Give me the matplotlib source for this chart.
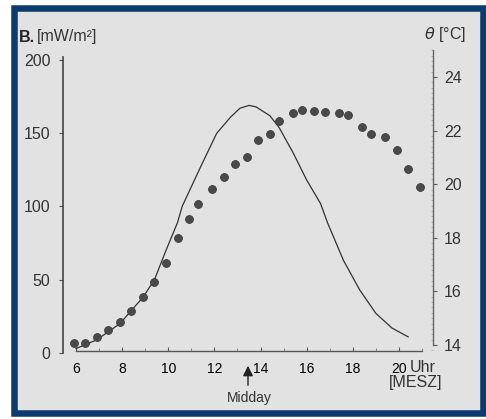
import numpy as np
import matplotlib
matplotlib.use("Agg")
import matplotlib.pyplot as plt
from matplotlib.patches import Rectangle
from matplotlib.ticker import MultipleLocator

plt.rcParams['font.family'] = ['Liberation Sans Narrow', 'Liberation Sans', 'DejaVu Sans']

# Globalstrahlung (Linie, linke Achse)
rad_hour = [6.0, 6.9, 7.9, 8.9, 9.4, 9.9, 10.4, 10.6, 11.4, 12.1, 12.7, 13.1, 13.5,
            13.8, 14.4, 14.8, 15.4, 16.0, 16.6, 16.9, 17.6, 18.3, 19.0, 19.7, 20.4]
rad_value = [3, 9, 20, 38, 50, 70, 89, 100, 127, 150, 161, 167, 169,
             168, 162, 154, 137, 118, 102, 89, 63, 43, 27, 17, 11]

# Lufttemperatur (Punkte, rechte Achse)
temp_hour = [5.9, 6.4, 6.9, 7.4, 7.9, 8.4, 8.9, 9.4, 9.9, 10.4, 10.9, 11.3, 11.9,
             12.4, 12.9, 13.4, 13.9, 14.4, 14.8, 15.4, 15.8, 16.3, 16.8, 17.4,
             17.8, 18.4, 18.8, 19.4, 19.9, 20.4, 20.9]
temp_value = [14.07, 14.07, 14.30, 14.56, 14.86, 15.27, 15.79, 16.35, 17.06, 17.99,
              18.70, 19.26, 19.82, 20.27, 20.75, 21.01, 21.65, 21.87, 22.36, 22.66,
              22.77, 22.73, 22.69, 22.66, 22.58, 22.13, 21.87, 21.76, 21.28, 20.57, 19.90]

x_ticks = [6, 8, 10, 12, 14, 16, 18, 20]
left_ticks = [0, 50, 100, 150, 200]
right_ticks = [14, 16, 18, 20, 22, 24]

W, H = 486, 419
fig = plt.figure(figsize=(W / 100, H / 100), dpi=100)
fig.patch.set_facecolor('white')

# Rahmen
frame = Rectangle((14 / W, 1 - 412.5 / H), 468.5 / W, 404 / H,
                  transform=fig.transFigure, facecolor='#e2e2e2',
                  edgecolor='#0b3b6e', linewidth=4.7, zorder=0)
fig.add_artist(frame)

ax = fig.add_axes([63 / W, 1 - 353 / H, 370 / W, 303 / H])
ax.set_facecolor('none')
ax2 = ax.twinx()
ax2.set_facecolor('none')

txt = '#333333'

# linke Achse: Strahlung
ax.plot(rad_hour, rad_value, color='#333333', lw=0.9, zorder=3)
ax.set_xlim(5.436, 21.475)
ax.set_ylim(0, 206.8)
ax.set_yticks(left_ticks)
ax.set_yticklabels([str(v) for v in left_ticks], fontsize=11.5, color=txt)
ax.set_xticks(x_ticks)
ax.set_xticklabels([str(v) for v in x_ticks], fontsize=11.5, color=txt)
ax.xaxis.set_minor_locator(MultipleLocator(1))
ax.tick_params(axis='x', which='major', direction='in', length=3, width=0.8,
               color='#555555', pad=8)
ax.tick_params(axis='x', which='minor', direction='in', length=2, width=0.6,
               color='#777777')
ax.tick_params(axis='y', direction='out', length=3, width=0.8, color='#555555', pad=6)

for s in ['top', 'right']:
    ax.spines[s].set_visible(False)
ax.spines['left'].set_bounds(0, 202)
ax.spines['left'].set_color('#444444')
ax.spines['left'].set_linewidth(1.2)
ax.spines['bottom'].set_position(('data', 1.6))
ax.spines['bottom'].set_bounds(6, 21)
ax.spines['bottom'].set_color('#555555')
ax.spines['bottom'].set_linewidth(1.0)

# rechte Achse: Temperatur
ax2.scatter(temp_hour, temp_value, s=32, color='#4a4a4a', edgecolors='#3a3a3a',
            linewidths=0.6, zorder=4)
ax2.set_ylim(13.70, 25.01)
ax2.set_yticks(right_ticks)
ax2.set_yticklabels([str(v) for v in right_ticks], fontsize=11.5, color=txt)
ax2.yaxis.set_minor_locator(MultipleLocator(0.2))
ax2.tick_params(axis='y', which='major', direction='out', length=3, width=0.8,
                color='#555555', pad=5)
ax2.tick_params(axis='y', which='minor', direction='in', length=1.5, width=0.4,
                color='#888888')
for s in ['top', 'left', 'bottom']:
    ax2.spines[s].set_visible(False)
ax2.spines['right'].set_bounds(14, 25)
ax2.spines['right'].set_color('#666666')
ax2.spines['right'].set_linewidth(1.0)

# Beschriftungen
fig.text(19 / W, 1 - 37 / H, 'B.', fontsize=11.5, fontweight='bold', color='#222222',
         ha='left', va='center')
fig.text(37 / W, 1 - 37 / H, '[mW/m²]', fontsize=11.5, color=txt,
         ha='left', va='center')
fig.text(466 / W, 1 - 35 / H, r'$\theta$ [°C]', fontsize=11.5, color=txt,
         ha='right', va='center')
fig.text(410 / W, 1 - 367 / H, 'Uhr', fontsize=11.5, color=txt, ha='left', va='center')
fig.text(416 / W, 1 - 382 / H, '[MESZ]', fontsize=11.5, color=txt, ha='center', va='center')

fig.text(249 / W, 1 - 398 / H, 'Midday', fontsize=10, color=txt,
         family=['Liberation Sans', 'DejaVu Sans'], ha='center', va='center')
ax.annotate('', xy=(248 / W, 1 - 363 / H), xytext=(248 / W, 1 - 388 / H),
            xycoords='figure fraction', textcoords='figure fraction',
            arrowprops=dict(arrowstyle='-|>', color='#222222', lw=1.0,
                            mutation_scale=15), annotation_clip=False)

fig.savefig('out.png', dpi=100)
